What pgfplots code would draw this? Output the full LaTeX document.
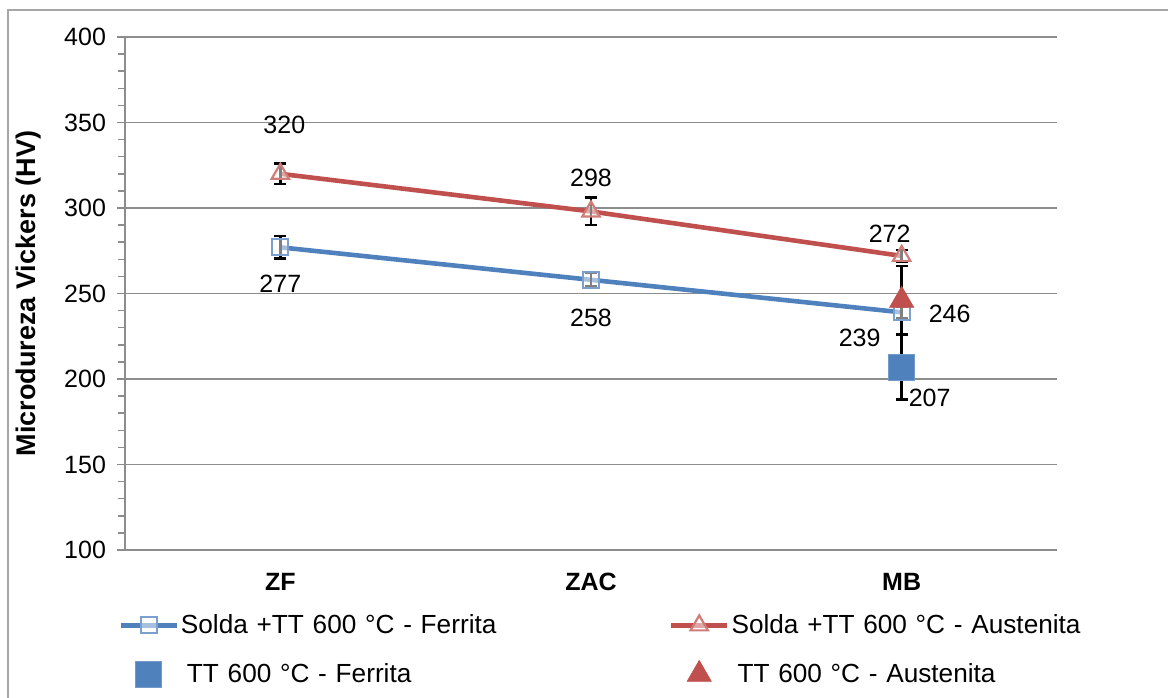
\documentclass[border=0pt]{standalone}
\usepackage{fontspec}
\setmainfont{Liberation Sans}
\usepackage{pgfplots}
\pgfplotsset{compat=1.18}
\definecolor{xblue}{HTML}{4F81BD}
\definecolor{xred}{HTML}{C0504D}
\definecolor{xgrid}{HTML}{8C8C8C}
\begin{document}
\begin{tikzpicture}
\useasboundingbox (0,0) rectangle (584pt,-348.5pt);
\draw[color=black!35, line width=1pt] (4pt,-400pt) -- (4pt,-5pt) -- (600pt,-5pt);
\begin{axis}[
  at={(62.5pt,-275pt)}, anchor=south west,
  scale only axis, width=466pt, height=256.5pt,
  font=\fontsize{12.5}{15}\selectfont,
  /pgf/number format/assume math mode=true,
  xmin=-0.5, xmax=2.5, ymin=100, ymax=400,
  axis x line*=bottom, axis y line*=left,
  axis line style={xgrid, line width=0.75pt, -},
  xtick={0,1,2}, xticklabels={ZF,ZAC,MB},
  xtick style={draw=none},
  minor xtick={-0.5,0.5,1.5,2.5},
  xticklabel style={font=\fontsize{12.5}{15}\selectfont\bfseries, yshift=-4pt},
  ytick={100,150,...,400},
  minor ytick={110,120,130,140,160,170,180,190,210,220,230,240,260,270,280,290,310,320,330,340,360,370,380,390},
  tick align=outside, major tick length=4pt, minor tick length=3.5pt,
  tick style={xgrid, line width=0.75pt},
  ymajorgrids, major grid style={xgrid, line width=0.75pt},
  yticklabel style={xshift=-2pt},
  ylabel={\fontsize{13.5}{16}\selectfont\bfseries Microdureza Vickers (HV)},
  ylabel style={at={(axis description cs:-0.104,0.5)}, anchor=center},
  clip=false,
  legend columns=2,
  legend cell align=left,
  legend style={draw=none, fill=none, at={(axis description cs:-0.014,-0.113)}, anchor=north west,
    font=\fontsize{13.1}{15}\selectfont, row sep=11pt,
    nodes={text width=243pt, inner sep=1pt}},
  legend image code/.code={\draw[mark repeat=2,mark phase=2] plot coordinates {(0pt,0pt)(14pt,0pt)(28pt,0pt)};},
  error bars/error bar style={black, line width=1.25pt},
  error bars/error mark options={black, rotate=90, mark size=3pt, line width=1.25pt},
]
\addplot[xblue, line width=2.3pt, mark=square*, mark size=4pt,
  mark options={draw=xblue!75, fill=white, fill opacity=0.5, line width=1.1pt},
  error bars/.cd, y dir=both, y explicit]
  coordinates {(0,277) +- (0,6.5) (1,258) +- (0,4) (2,239) +- (0,3.5)};
\addlegendentry{Solda +TT 600 °C - Ferrita}
\addplot[xred, line width=2.3pt, mark=triangle*, mark size=5pt,
  mark options={draw=xred!75, fill=white, fill opacity=0.5, line width=1.1pt},
  error bars/.cd, y dir=both, y explicit]
  coordinates {(0,320) +- (0,6) (1,298) +- (0,8) (2,272) +- (0,3.5)};
\addlegendentry{Solda +TT 600 °C - Austenita}
\addplot[only marks, mark=square*, mark size=6.5pt,
  mark options={draw=xblue!80, fill=xblue, line width=0.5pt, rounded corners=1pt},
  error bars/.cd, y dir=both, y explicit]
  coordinates {(2,207) +- (0,19)};
\addlegendentry{\hspace{3pt}TT 600 °C - Ferrita}
\addplot[only marks, mark=triangle*, mark size=7pt,
  mark options={draw=xred, fill=xred, line width=0.3pt},
  error bars/.cd, y dir=both, y explicit]
  coordinates {(2,246) +- (0,20)};
\addlegendentry{\hspace{3pt}TT 600 °C - Austenita}
\node[xshift=2pt, yshift=24.5pt] at (axis cs:0,320) {320};
\node[yshift=-18pt] at (axis cs:0,277) {277};
\node[yshift=17pt] at (axis cs:1,298) {298};
\node[yshift=-19pt] at (axis cs:1,258) {258};
\node[xshift=-6pt, yshift=11pt] at (axis cs:2,272) {272};
\node[xshift=-21pt, yshift=-13pt] at (axis cs:2,239) {239};
\node[xshift=24pt, yshift=-7pt] at (axis cs:2,246) {246};
\node[xshift=14pt, yshift=-15.5pt] at (axis cs:2,207) {207};
\end{axis}
\end{tikzpicture}
\end{document}
